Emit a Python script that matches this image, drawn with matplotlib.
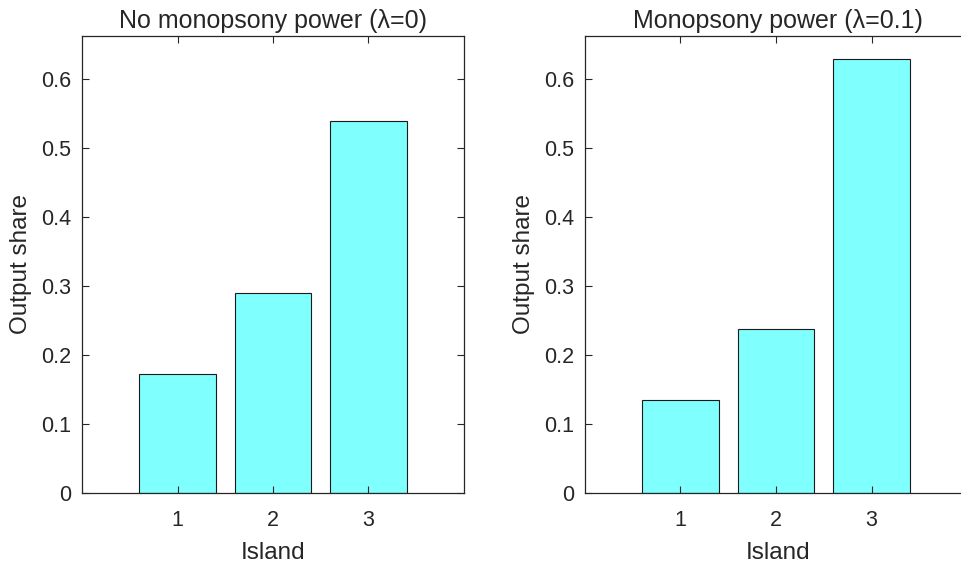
import matplotlib.pyplot as plt
import numpy as np

plt.rcParams['font.family'] = ['Liberation Sans', 'DejaVu Sans']

# Output shares by island
islands = [1, 2, 3]
share_no_power = [0.172, 0.289, 0.539]
share_power = [0.134, 0.237, 0.629]
titles = ['No monopsony power (λ=0)', 'Monopsony power (λ=0.1)']

ink = '#262626'
fig = plt.figure(figsize=(9.62, 5.65), dpi=100)

# axes boxes in pixels: left, bottom, width, height
W, H = 962, 565
boxes = [(82, 565 - 493, 382, 457), (585, 565 - 493, 386, 457)]

for box, vals, title in zip(boxes, [share_no_power, share_power], titles):
    ax = fig.add_axes([box[0] / W, box[1] / H, box[2] / W, box[3] / H])
    ax.bar(islands, vals, width=0.8, color='#80FFFF', edgecolor='#1a1a1a', linewidth=0.8)
    ax.set_xlim(0, 4 * box[2] / 382)
    ax.set_ylim(0, 0.662)
    ax.set_xticks(islands)
    ax.set_yticks(np.arange(0, 0.61, 0.1))
    ax.set_yticklabels(['0'] + [f'{t:.1f}' for t in np.arange(0.1, 0.61, 0.1)])
    ax.tick_params(direction='in', top=True, right=True, length=5, width=0.8,
                   colors=ink, labelsize=15.5)
    ax.tick_params(axis='x', pad=12)
    ax.tick_params(axis='y', pad=8)
    for s in ax.spines.values():
        s.set_color(ink)
        s.set_linewidth(0.9)
    ax.set_title(title, fontsize=18, color=ink, pad=6)
    ax.set_xlabel('Island', fontsize=17.5, color=ink, labelpad=8)
    ax.set_ylabel('Output share', fontsize=17.5, color=ink, labelpad=6)

fig.savefig('out.png', dpi=100)
